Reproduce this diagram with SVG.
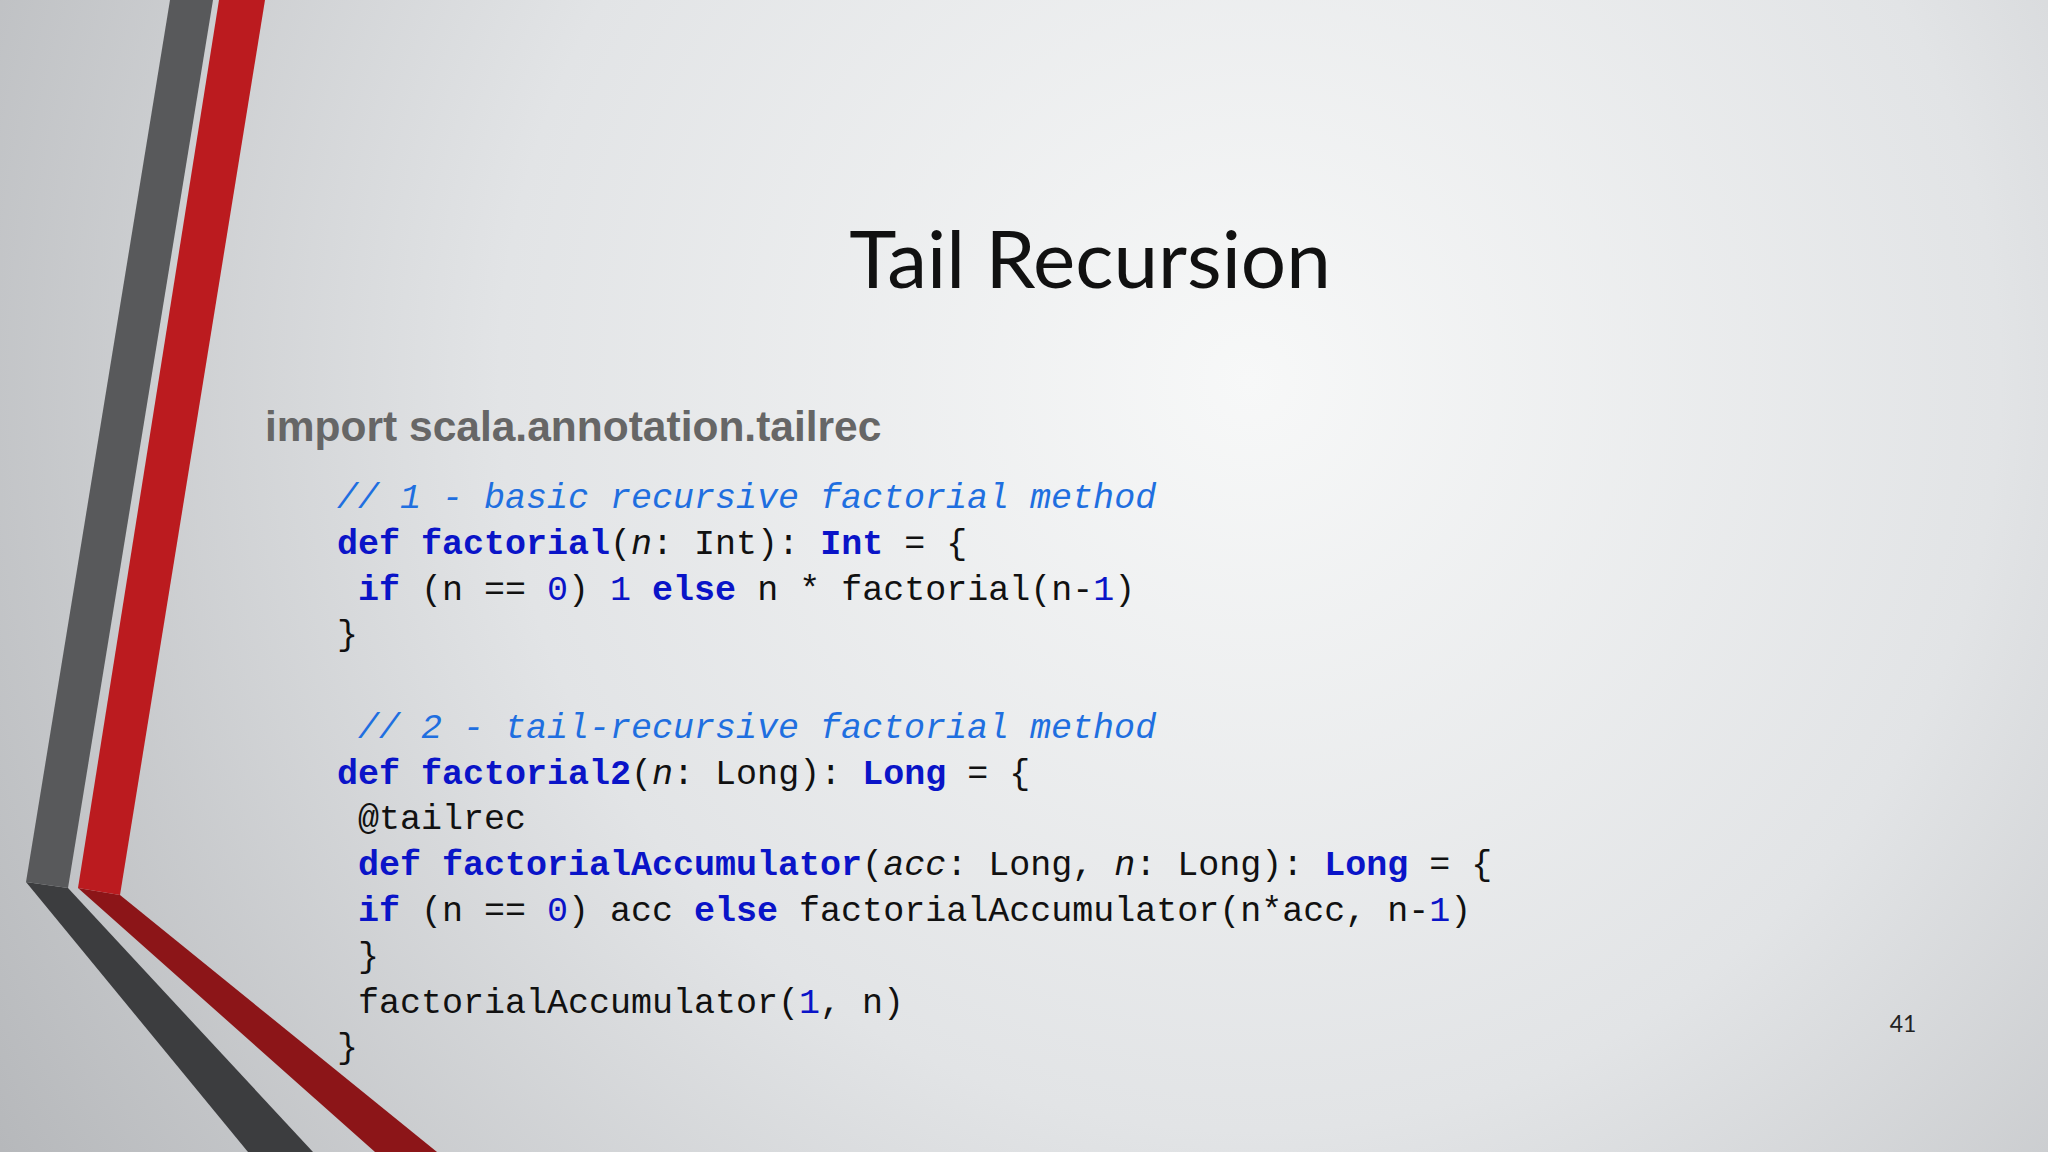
<svg xmlns="http://www.w3.org/2000/svg" width="2048" height="1152" viewBox="0 0 2048 1152">
<defs>
<radialGradient id="bg" cx="1250" cy="380" r="1500" gradientUnits="userSpaceOnUse">
<stop offset="0" stop-color="#f7f8f8"/>
<stop offset="0.5" stop-color="#e2e4e6"/>
<stop offset="1" stop-color="#b4b6b9"/>
</radialGradient>
<style>
.code{font-family:"Liberation Mono","DejaVu Sans Mono",monospace;font-size:35px;fill:#111}
.cm{fill:#1f6fe0;font-style:italic}
.kw{fill:#0a14c8;font-weight:bold}
.num{fill:#0a14c8}
.it{font-style:italic}
</style>
</defs>
<rect width="2048" height="1152" fill="url(#bg)"/>
<g id="decor">
<polygon points="26,882 68,888 313,1152 248,1152" fill="#3c3d3f"/>
<polygon points="78,888 120,895 437,1152 375,1152" fill="#8c1518"/>
<polygon points="170,0 213,0 68,888 26,882" fill="#58595b"/>
<polygon points="219,0 265,0 120,895 78,888" fill="#bb1b1f"/>
</g>
<g id="title"><text x="1090" y="288" text-anchor="middle" font-family="Lato,'Open Sans',sans-serif" font-size="80" fill="#111">Tail Recursion</text></g>
<g id="import"><text x="265" y="441" font-family="'Liberation Sans',Arial,sans-serif" font-weight="bold" font-size="42.5" fill="#666">import scala.annotation.tailrec</text></g>
<g id="code" class="code">
<text x="337" y="508" class="cm">// 1 - basic recursive factorial method</text>
<text x="337" y="554"><tspan class="kw">def</tspan> <tspan class="kw">factorial</tspan>(<tspan class="it">n</tspan>: Int): <tspan class="kw">Int</tspan> = {</text>
<text x="358" y="600"><tspan class="kw">if</tspan> (n == <tspan class="num">0</tspan>) <tspan class="num">1</tspan> <tspan class="kw">else</tspan> n * factorial(n-<tspan class="num">1</tspan>)</text>
<text x="337" y="645">}</text>
<text x="358" y="738" class="cm">// 2 - tail-recursive factorial method</text>
<text x="337" y="784"><tspan class="kw">def</tspan> <tspan class="kw">factorial2</tspan>(<tspan class="it">n</tspan>: Long): <tspan class="kw">Long</tspan> = {</text>
<text x="358" y="829">@tailrec</text>
<text x="358" y="875"><tspan class="kw">def</tspan> <tspan class="kw">factorialAccumulator</tspan>(<tspan class="it">acc</tspan>: Long, <tspan class="it">n</tspan>: Long): <tspan class="kw">Long</tspan> = {</text>
<text x="358" y="921"><tspan class="kw">if</tspan> (n == <tspan class="num">0</tspan>) acc <tspan class="kw">else</tspan> factorialAccumulator(n*acc, n-<tspan class="num">1</tspan>)</text>
<text x="358" y="967">}</text>
<text x="358" y="1013">factorialAccumulator(<tspan class="num">1</tspan>, n)</text>
<text x="337" y="1058">}</text>
</g>
<g id="pagenum"><text x="1903" y="1032" text-anchor="middle" font-family="Lato,'Open Sans',sans-serif" font-size="23" fill="#222">41</text></g>
</svg>
